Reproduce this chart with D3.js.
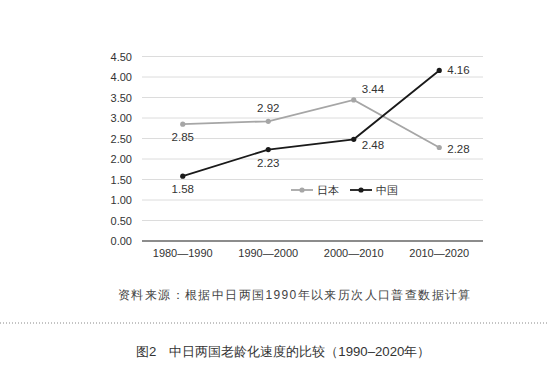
<!DOCTYPE html>
<html>
<head>
<meta charset="utf-8">
<script src="https://cdn.jsdelivr.net/npm/d3@7"></script>
<style>
body { margin: 0; background: #fff; }
text { font-family: "Liberation Sans", Arial, sans-serif; }
</style>
</head>
<body>
<script>
let categories = ["1980—1990", "1990—2000", "2000—2010", "2010—2020"];
let japan = [2.85, 2.92, 3.44, 2.28];
let china = [1.58, 2.23, 2.48, 4.16];
let yTicks = [0, 0.5, 1, 1.5, 2, 2.5, 3, 3.5, 4, 4.5];
// label placement for each point: [dx, dy, anchor]
let japanLabelPos = [[0, 17, "middle"], [0, -9, "middle"], [8, -7, "start"], [8, 5, "start"]];
let chinaLabelPos = [[0, 17, "middle"], [0, 17, "middle"], [8, 10, "start"], [8, 4, "start"]];

let svg = d3.select("body")
            .append("svg")
            .attr("width", 548)
            .attr("height", 370);

let x = d3.scaleBand().domain(categories).range([140, 482]);
let y = d3.scaleLinear().domain([0, 4.5]).range([241, 56.5]);

// gridlines
svg.append("g")
    .selectAll("line")
    .data(yTicks.filter(d => d > 0))
    .enter().append("line")
    .attr("x1", 142).attr("x2", 483)
    .attr("y1", d => y(d)).attr("y2", d => y(d))
    .attr("stroke", "#dcdcdc")
    .attr("stroke-width", 1);

// y axis labels
svg.append("g")
    .selectAll("text")
    .data(yTicks)
    .enter().append("text")
    .attr("x", 132)
    .attr("y", d => y(d) + 4)
    .attr("text-anchor", "end")
    .attr("font-size", 11)
    .attr("fill", "#333")
    .text(d => d.toFixed(2));

// x axis
svg.append("line")
    .attr("x1", 142).attr("x2", 483)
    .attr("y1", y(0)).attr("y2", y(0))
    .attr("stroke", "#666")
    .attr("stroke-width", 1.3);

svg.append("g")
    .selectAll("text")
    .data(categories)
    .enter().append("text")
    .attr("x", d => x(d) + x.bandwidth() / 2)
    .attr("y", 257)
    .attr("text-anchor", "middle")
    .attr("font-size", 11)
    .attr("fill", "#333")
    .text(d => d);

let line = d3.line()
            .x((d, i) => x(categories[i]) + x.bandwidth() / 2)
            .y(d => y(d));

let drawSeries = (values, color, labelPos) => {
    svg.append("path")
        .datum(values)
        .attr("d", line)
        .attr("fill", "none")
        .attr("stroke", color)
        .attr("stroke-width", 1.8);
    svg.append("g")
        .selectAll("circle")
        .data(values)
        .enter().append("circle")
        .attr("cx", (d, i) => x(categories[i]) + x.bandwidth() / 2)
        .attr("cy", d => y(d))
        .attr("r", 2.6)
        .attr("fill", color);
    svg.append("g")
        .selectAll("text")
        .data(values)
        .enter().append("text")
        .attr("x", (d, i) => x(categories[i]) + x.bandwidth() / 2 + labelPos[i][0])
        .attr("y", (d, i) => y(d) + labelPos[i][1])
        .attr("text-anchor", (d, i) => labelPos[i][2])
        .attr("font-size", 11.5)
        .attr("fill", "#333")
        .text(d => d.toFixed(2));
};

drawSeries(japan, "#a6a6a6", japanLabelPos);
drawSeries(china, "#1a1a1a", chinaLabelPos);

// legend
let legend = [["日本", "#a6a6a6", 291], ["中国", "#1a1a1a", 350]];
legend.forEach(l => {
    svg.append("line")
        .attr("x1", l[2]).attr("x2", l[2] + 22)
        .attr("y1", 190).attr("y2", 190)
        .attr("stroke", l[1]).attr("stroke-width", 1.8);
    svg.append("circle")
        .attr("cx", l[2] + 11).attr("cy", 190).attr("r", 2.6).attr("fill", l[1]);
    svg.append("text")
        .attr("x", l[2] + 26).attr("y", 194)
        .attr("font-size", 11)
        .attr("font-family", "Noto Sans CJK SC")
        .attr("fill", "#333")
        .text(l[0]);
});

// source note
svg.append("text")
    .attr("x", 118).attr("y", 299)
    .attr("font-size", 12)
    .attr("font-family", "Noto Sans CJK SC")
    .attr("letter-spacing", 1.4)
    .attr("fill", "#444")
    .text("资料来源：根据中日两国1990年以来历次人口普查数据计算");

// dotted separator
svg.append("line")
    .attr("x1", 0).attr("x2", 548)
    .attr("y1", 323).attr("y2", 323)
    .attr("stroke", "#888")
    .attr("stroke-width", 1)
    .attr("stroke-dasharray", "1,2");

// caption
svg.append("text")
    .attr("x", 136).attr("y", 356)
    .attr("font-size", 13.2)
    .attr("font-family", "Noto Sans CJK SC")
    .attr("fill", "#333")
    .text("图2　中日两国老龄化速度的比较（1990–2020年）");
</script>
</body>
</html>
